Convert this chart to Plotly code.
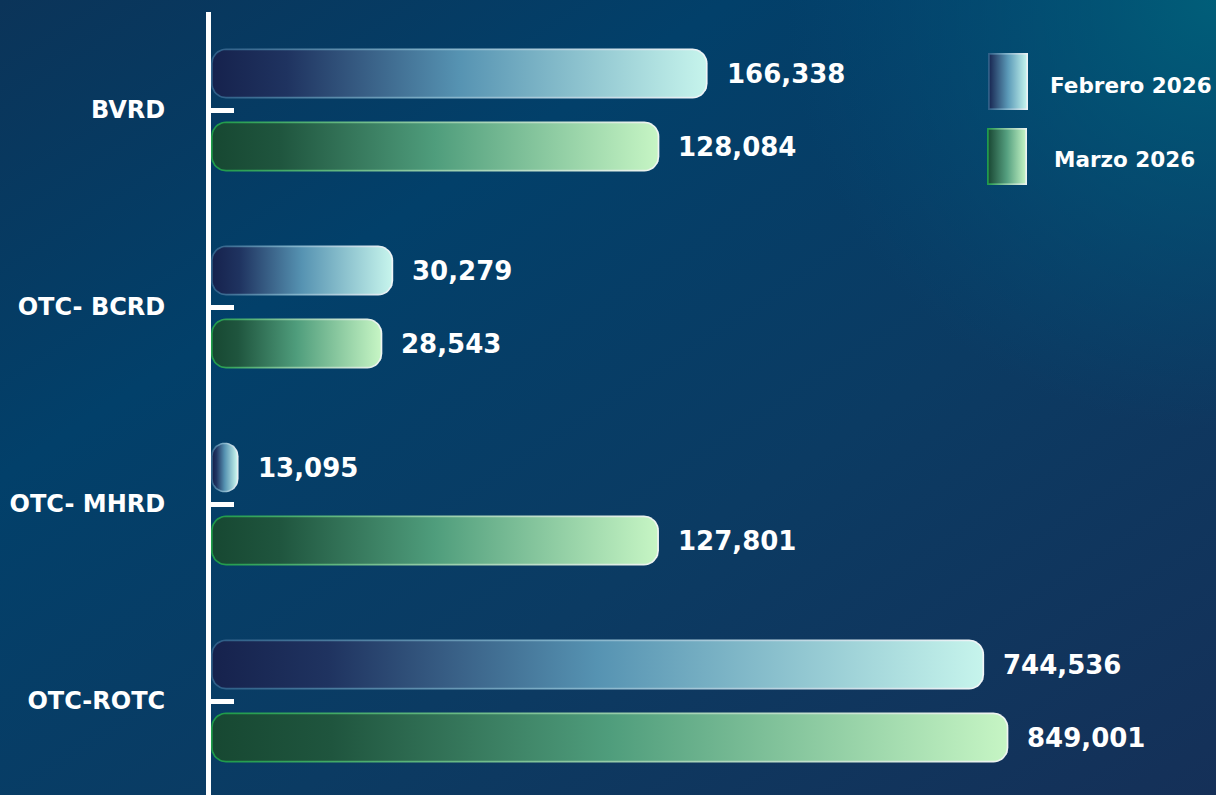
import math
import base64
import plotly.graph_objects as go

# ---------------- data ----------------
categories = ["BVRD", "OTC- BCRD", "OTC- MHRD", "OTC-ROTC"]
series_names = ["Febrero 2026", "Marzo 2026"]
febrero_2026 = [166338, 30279, 13095, 744536]
marzo_2026 = [128084, 28543, 127801, 849001]

# ---------------- layout constants ----------------
W, H = 1216, 795
ML, MR, MT, MB = 211, 0, 12, 0
PLOT_W = W - ML - MR
PLOT_H = H - MT - MB

# hidden logarithmic value axis
X_LOG_MIN = 4.0523
PX_PER_DECADE = 424.9
X_LOG_MAX = X_LOG_MIN + PLOT_W / PX_PER_DECADE

ROW_PX = 197.0
Y_MIN = -(110 - MT) / ROW_PX
Y_MAX = Y_MIN + PLOT_H / ROW_PX

BAR_HALF_PX = 25.0
BAR_OFFSET_PX = 36.5
CORNER_PX = 15.0
BORDER_PX = 1.7

FONT = "DejaVu Sans"

styles = {
    "Febrero 2026": dict(
        fill=[[0.0, "#16224d"], [0.15, "#1f3360"], [0.5, "#5693b2"], [1.0, "#c6f4ec"]],
        border=[[0.0, "#2d5d86"], [0.45, "#7fb0c8"], [1.0, "#f0f5f7"]],
        offset=-BAR_OFFSET_PX,
    ),
    "Marzo 2026": dict(
        fill=[[0.0, "#174832"], [0.15, "#1f553e"], [0.5, "#4f9d7c"], [1.0, "#c6f5c4"]],
        border=[[0.0, "#1c9a48"], [0.45, "#8cc8a0"], [1.0, "#f0f5f2"]],
        offset=BAR_OFFSET_PX,
    ),
}


def value_to_px(v):
    return PX_PER_DECADE * (math.log10(v) - X_LOG_MIN)


def rounded_bar(width_px, center_y, offset_px, inset):
    """Rounded rectangle from the axis start to width_px, returned in data units."""
    x0 = inset
    x1 = width_px - inset
    top = offset_px - BAR_HALF_PX + inset
    bot = offset_px + BAR_HALF_PX - inset
    r = max(0.5, min(CORNER_PX - inset, (x1 - x0) / 2.0, (bot - top) / 2.0))
    corners = [
        (x0 + r, top + r, 180, 270),
        (x1 - r, top + r, 270, 360),
        (x1 - r, bot - r, 0, 90),
        (x0 + r, bot - r, 90, 180),
    ]
    xs, ys = [], []
    for cx, cy, a0, a1 in corners:
        for k in range(11):
            a = math.radians(a0 + (a1 - a0) * k / 10.0)
            px = cx + r * math.cos(a)
            py = cy + r * math.sin(a)
            xs.append(10 ** (X_LOG_MIN + px / PX_PER_DECADE))
            ys.append(center_y + py / ROW_PX)
    xs.append(xs[0])
    ys.append(ys[0])
    return xs, ys


fig = go.Figure()
annotations = []

for name, values in zip(series_names, [febrero_2026, marzo_2026]):
    st = styles[name]
    for i, v in enumerate(values):
        wpx = value_to_px(v)
        # border (outer shape)
        bx, by = rounded_bar(wpx, i, st["offset"], 0.0)
        fig.add_trace(go.Scatter(
            x=bx, y=by, mode="lines", fill="toself",
            line=dict(width=0, color="rgba(0,0,0,0)"),
            fillgradient=dict(type="horizontal", colorscale=st["border"]),
            hoverinfo="skip", showlegend=False, name=name,
        ))
        # fill (inner shape)
        fx, fy = rounded_bar(wpx, i, st["offset"], BORDER_PX)
        fig.add_trace(go.Scatter(
            x=fx, y=fy, mode="lines", fill="toself",
            line=dict(width=0, color="rgba(0,0,0,0)"),
            fillgradient=dict(type="horizontal", colorscale=st["fill"]),
            hoverinfo="skip", showlegend=False, name=name,
        ))
        annotations.append(dict(
            x=math.log10(v), y=i + st["offset"] / ROW_PX,
            xref="x", yref="y", text=f"{v:,}", showarrow=False,
            xanchor="left", yanchor="middle", xshift=17,
            font=dict(family=FONT, size=26, color="white", weight="bold"),
        ))

# ---------------- legend (custom swatches + text) ----------------
def svg_uri(svg):
    return "data:image/svg+xml;base64," + base64.b64encode(svg.encode("utf-8")).decode("ascii")


def swatch_svg(fill, border):
    def stops(cs):
        return "".join(f"<stop offset='{p}' stop-color='{c}'/>" for p, c in cs)
    return (
        "<svg xmlns='http://www.w3.org/2000/svg' width='40' height='57' viewBox='0 0 40 57'>"
        "<defs>"
        f"<linearGradient id='g' x1='0' y1='0' x2='1' y2='0'>{stops(fill)}</linearGradient>"
        f"<linearGradient id='b' x1='0' y1='0' x2='1' y2='0'>{stops(border)}</linearGradient>"
        "</defs>"
        "<rect x='0' y='0' width='40' height='57' fill='url(#b)'/>"
        "<rect x='1.7' y='1.7' width='36.6' height='53.6' fill='url(#g)'/>"
        "</svg>"
    )


def paper_x(px):
    return (px - ML) / PLOT_W


def paper_y(py):
    return 1 - (py - MT) / PLOT_H


images = []
legend_pos = {"Febrero 2026": (988, 53, 1048, 85), "Marzo 2026": (987, 128, 1052, 160)}
legend_swatch_fill = {
    "Febrero 2026": [[0.0, "#1a2a55"], [0.5, "#5b9ab8"], [1.0, "#c2f2ec"]],
    "Marzo 2026": [[0.0, "#1b4a36"], [0.5, "#55a080"], [1.0, "#c2f2c2"]],
}
for name in series_names:
    sx, sy, tx, ty = legend_pos[name]
    images.append(dict(
        source=svg_uri(swatch_svg(legend_swatch_fill[name], styles[name]["border"])),
        xref="paper", yref="paper", x=paper_x(sx), y=paper_y(sy),
        sizex=40 / PLOT_W, sizey=57 / PLOT_H, xanchor="left", yanchor="top",
        sizing="stretch", layer="above",
    ))
    annotations.append(dict(
        x=paper_x(tx), y=paper_y(ty), xref="paper", yref="paper",
        text=name, showarrow=False, xanchor="left", yanchor="middle",
        font=dict(family=FONT, size=21.5, color="white", weight="bold"),
    ))

# ---------------- background ----------------
bg_svg = (
    f"<svg xmlns='http://www.w3.org/2000/svg' width='{W}' height='{H}' viewBox='0 0 {W} {H}'>"
    "<defs>"
    "<linearGradient id='a' x1='0' y1='0' x2='1' y2='1'>"
    "<stop offset='0' stop-color='#0b3459'/>"
    "<stop offset='0.3' stop-color='#02406a'/>"
    "<stop offset='0.62' stop-color='#0b3b63'/>"
    "<stop offset='1' stop-color='#153058'/>"
    "</linearGradient>"
    f"<radialGradient id='r' gradientUnits='userSpaceOnUse' cx='{W}' cy='0' r='430'>"
    "<stop offset='0' stop-color='#00607a' stop-opacity='0.95'/>"
    "<stop offset='0.5' stop-color='#00587a' stop-opacity='0.5'/>"
    "<stop offset='1' stop-color='#00507a' stop-opacity='0'/>"
    "</radialGradient>"
    "</defs>"
    f"<rect width='{W}' height='{H}' fill='url(#a)'/>"
    f"<rect width='{W}' height='{H}' fill='url(#r)'/>"
    "</svg>"
)
images.append(dict(
    source=svg_uri(bg_svg), xref="paper", yref="paper",
    x=-ML / PLOT_W, y=1 + MT / PLOT_H, sizex=W / PLOT_W, sizey=H / PLOT_H,
    xanchor="left", yanchor="top", sizing="stretch", layer="below",
))

fig.update_layout(
    width=W, height=H,
    margin=dict(l=ML, r=MR, t=MT, b=MB, pad=0),
    paper_bgcolor="#033d66", plot_bgcolor="rgba(0,0,0,0)",
    showlegend=False, hovermode=False,
    images=images, annotations=annotations,
    xaxis=dict(type="log", range=[X_LOG_MIN, X_LOG_MAX], visible=False,
               showgrid=False, zeroline=False, fixedrange=True),
    yaxis=dict(
        range=[Y_MAX, Y_MIN], tickmode="array",
        tickvals=list(range(len(categories))), ticktext=categories,
        showline=True, linecolor="white", linewidth=5,
        ticks="inside", ticklen=23, tickwidth=5, tickcolor="white",
        tickfont=dict(family=FONT, size=24, color="white", weight="bold"),
        ticklabelstandoff=36, showgrid=False, zeroline=False, fixedrange=True,
    ),
)

fig.write_html(
    "out.html",
    config={"displayModeBar": False, "staticPlot": True},
    post_script="document.body.style.margin='0';document.body.style.padding='0';"
                "document.documentElement.style.overflow='hidden';document.body.style.overflow='hidden';",
)
